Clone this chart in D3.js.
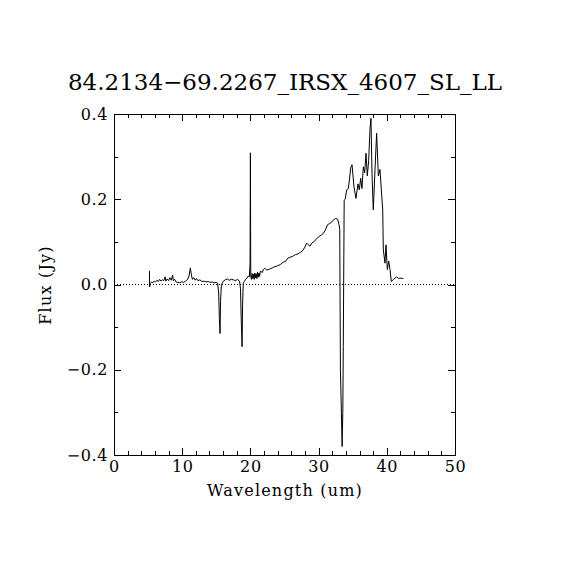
<!DOCTYPE html>
<html>
<head>
<meta charset="utf-8">
<script src="https://cdn.jsdelivr.net/npm/d3@7"></script>
<style>
  body { margin: 0; background: #fff; }
  svg { display: block; }
</style>
</head>
<body>
<script>
// spectrum: wavelength (um) and flux (Jy)
var wavelength = [
    5.2, 5.22, 5.3, 5.5, 5.7, 5.9, 6.1, 6.3, 6.5, 6.7, 6.9, 7.1, 7.3, 7.5, 7.6, 7.8,
    8.0, 8.2, 8.4, 8.6, 8.7, 8.9, 9.1, 9.3, 9.6, 9.9, 10.2, 10.5, 10.8, 11.0, 11.2, 11.35,
    11.5, 11.7, 11.9, 12.1, 12.3, 12.6, 12.9, 13.2, 13.5, 13.8, 14.1, 14.4, 14.7, 15.0,
    15.2, 15.35, 15.45, 15.55, 15.62, 15.75, 16.0, 16.3, 16.6, 16.9, 17.2, 17.5, 17.8, 18.1,
    18.4, 18.55, 18.65, 18.78, 18.85, 18.95, 19.1, 19.3, 19.5, 19.7, 19.85, 19.95, 20.0, 20.05,
    20.15, 20.25, 20.35, 20.45, 20.55, 20.65, 20.75, 20.85, 20.95, 21.05, 21.15, 21.25, 21.35, 21.45,
    21.6, 21.75, 21.9, 22.1, 22.4, 22.8, 23.2, 23.6, 24.0, 24.4, 24.8, 25.2, 25.5, 25.8,
    26.2, 26.6, 27.0, 27.3, 27.7, 28.0, 28.25, 28.5, 28.75, 29.0, 29.3, 29.7, 30.0, 30.4,
    30.7, 31.0, 31.3, 31.6, 31.9, 32.2, 32.5, 32.8, 33.0, 33.1, 33.2, 33.45, 33.55, 33.62,
    33.75, 33.9, 34.12, 34.36, 34.55, 34.7, 34.9, 35.19, 35.48, 35.78, 35.97, 36.17, 36.36, 36.56,
    36.75, 36.95, 37.14, 37.34, 37.54, 37.68, 37.83, 38.02, 38.27, 38.51, 38.76, 39.0, 39.2, 39.4,
    39.49, 39.74, 39.88, 40.08, 40.28, 40.47, 40.66, 40.96, 41.2, 41.45, 41.7, 41.94, 42.42
];
var flux = [
    0.032, -0.006, 0.002, 0.006, 0.004, 0.008, 0.006, 0.01, 0.007, 0.012, 0.008, 0.011, 0.009, 0.018, 0.008, 0.013,
    0.009, 0.016, 0.01, 0.022, 0.009, 0.012, 0.006, 0.005, 0.004, 0.006, 0.005, 0.008, 0.012, 0.02, 0.039, 0.022,
    0.012, 0.016, 0.01, 0.014, 0.009, 0.011, 0.007, 0.008, 0.006, 0.007, 0.005, 0.006, 0.004, 0.005,
    0.003, -0.02, -0.08, -0.115, -0.04, 0.0, 0.007, 0.011, 0.013, 0.01, 0.012, 0.011, 0.009, 0.012,
    0.008, -0.01, -0.08, -0.146, -0.05, 0.002, 0.007, 0.012, 0.015, 0.02, 0.018, 0.05, 0.309, 0.02,
    0.012, 0.026, 0.014, 0.024, 0.012, 0.027, 0.016, 0.025, 0.014, 0.029, 0.017, 0.027, 0.019, 0.031,
    0.03, 0.028, 0.035, 0.038, 0.034, 0.036, 0.039, 0.042, 0.044, 0.047, 0.052, 0.055, 0.062, 0.064,
    0.066, 0.07, 0.072, 0.075, 0.08, 0.088, 0.097, 0.093, 0.09, 0.097, 0.1, 0.107, 0.112, 0.116,
    0.12, 0.128, 0.14, 0.143, 0.146, 0.152, 0.155, 0.153, 0.14, 0.13, -0.2, -0.38, -0.3, -0.146,
    0.198, 0.2, 0.222, 0.225, 0.25, 0.273, 0.281, 0.229, 0.202, 0.236, 0.222, 0.249, 0.225, 0.276,
    0.262, 0.308, 0.255, 0.29, 0.366, 0.39, 0.26, 0.175, 0.27, 0.355, 0.255, 0.27, 0.222, 0.175,
    0.081, 0.05, 0.093, 0.035, 0.055, 0.035, 0.007, 0.012, 0.015, 0.018, 0.014, 0.015, 0.014
];

var xTicks = [0, 10, 20, 30, 40, 50];
var yTicks = [-0.4, -0.2, 0.0, 0.2, 0.4];
var titleText = "84.2134\u221269.2267_IRSX_4607_SL_LL";
var xLabel = "Wavelength (um)";
var yLabel = "Flux (Jy)";

var fontFamily = "'DejaVu Serif', serif";

var margin = {
        top: 114,
        right: 115,
        bottom: 115,
        left: 114
    },
    width = 570 - margin.left - margin.right,
    height = 570 - margin.top - margin.bottom;

var get_x = d3.scaleLinear()
    .domain([0, 50])
    .range([0, width]);

var get_y = d3.scaleLinear()
    .domain([-0.4, 0.4])
    .range([height, 0]);

var svg = d3.select("body").append("svg")
    .attr("width", 570)
    .attr("height", 570);

svg.append("text")
    .attr("x", 285)
    .attr("y", 90)
    .attr("text-anchor", "middle")
    .attr("font-family", fontFamily)
    .attr("font-size", 23)
    .text(titleText);

var g = svg.append("g")
    .attr("transform", "translate(" + margin.left + "," + margin.top + ")");

var minorX = d3.range(0, 51, 2);
var minorY = d3.range(-4, 5).map(function(d) { return d / 10; });

function styleAxis(sel) {
    sel.attr("font-family", fontFamily)
        .attr("font-size", 16)
        .attr("shape-rendering", "crispEdges");
    sel.select(".domain").remove();
    sel.selectAll("line").attr("stroke", "#000");
    sel.selectAll("text").attr("fill", "#000").attr("letter-spacing", 0.6);
}

// major ticks with labels
g.append("g")
    .attr("transform", "translate(0," + height + ")")
    .call(d3.axisBottom(get_x).tickValues(xTicks).tickSizeInner(-7).tickSizeOuter(0).tickPadding(6)
        .tickFormat(d3.format("d")))
    .call(styleAxis);

g.append("g")
    .call(d3.axisLeft(get_y).tickValues(yTicks).tickSizeInner(-7).tickSizeOuter(0).tickPadding(6)
        .tickFormat(d3.format(".1f")))
    .call(styleAxis);

g.append("g")
    .call(d3.axisTop(get_x).tickValues(xTicks).tickSizeInner(-7).tickSizeOuter(0).tickFormat(""))
    .call(styleAxis);

g.append("g")
    .attr("transform", "translate(" + width + ",0)")
    .call(d3.axisRight(get_y).tickValues(yTicks).tickSizeInner(-7).tickSizeOuter(0).tickFormat(""))
    .call(styleAxis);

// minor ticks
g.append("g")
    .attr("transform", "translate(0," + height + ")")
    .call(d3.axisBottom(get_x).tickValues(minorX).tickSizeInner(-4).tickSizeOuter(0).tickFormat(""))
    .call(styleAxis);
g.append("g")
    .call(d3.axisTop(get_x).tickValues(minorX).tickSizeInner(-4).tickSizeOuter(0).tickFormat(""))
    .call(styleAxis);
g.append("g")
    .call(d3.axisLeft(get_y).tickValues(minorY).tickSizeInner(-4).tickSizeOuter(0).tickFormat(""))
    .call(styleAxis);
g.append("g")
    .attr("transform", "translate(" + width + ",0)")
    .call(d3.axisRight(get_y).tickValues(minorY).tickSizeInner(-4).tickSizeOuter(0).tickFormat(""))
    .call(styleAxis);

// frame
g.append("rect")
    .attr("x", 0)
    .attr("y", 0)
    .attr("width", width)
    .attr("height", height)
    .attr("fill", "none")
    .attr("stroke", "#000")
    .attr("shape-rendering", "crispEdges");

// dotted zero line
g.append("line")
    .attr("x1", 0)
    .attr("x2", width)
    .attr("y1", get_y(0))
    .attr("y2", get_y(0))
    .attr("stroke", "#000")
    .attr("stroke-dasharray", "1,2")
    .attr("shape-rendering", "crispEdges");

var line = d3.line()
    .x(function(d, i) { return get_x(wavelength[i]); })
    .y(function(d) { return get_y(d); });

g.append("path")
    .datum(flux)
    .attr("fill", "none")
    .attr("stroke", "#000")
    .attr("stroke-width", 1)
    .attr("d", line);

svg.append("text")
    .attr("x", 285)
    .attr("y", 496)
    .attr("text-anchor", "middle")
    .attr("font-family", fontFamily)
    .attr("font-size", 16)
    .attr("letter-spacing", 1.2)
    .text(xLabel);

svg.append("text")
    .attr("transform", "translate(51,285) rotate(-90)")
    .attr("text-anchor", "middle")
    .attr("font-family", fontFamily)
    .attr("font-size", 16)
    .attr("letter-spacing", 1.2)
    .text(yLabel);
</script>
</body>
</html>
